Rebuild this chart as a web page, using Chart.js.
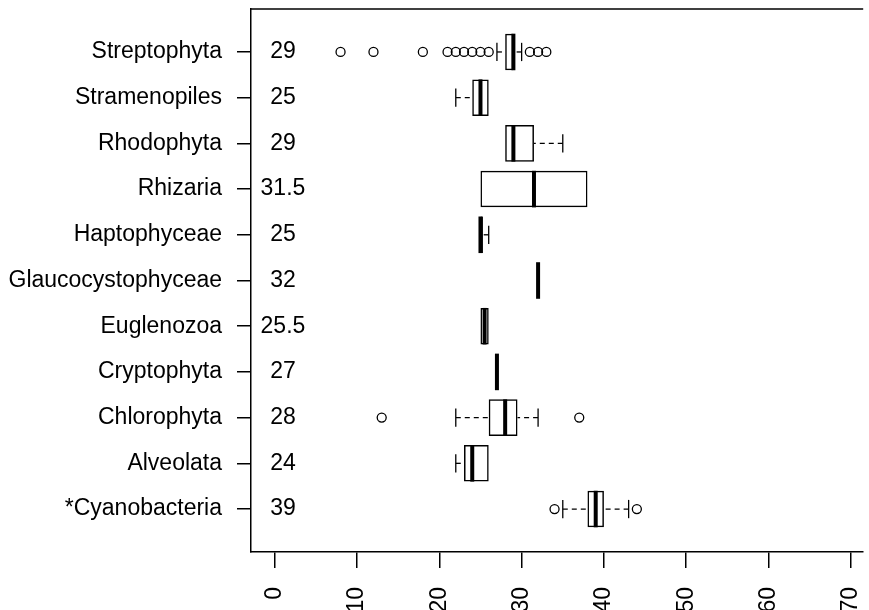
<!DOCTYPE html>
<html>
<head>
<meta charset="utf-8">
<script src="https://cdn.jsdelivr.net/npm/chart.js@4.4.0/dist/chart.umd.min.js"></script>
<style>
    body{margin:0;background:#fff;}
    canvas{display:block;}
</style>
</head>
<body>
<canvas id="chart" width="869" height="610"></canvas>
<script>
// groups from bottom (1) to top (11)
const categories = ['*Cyanobacteria','Alveolata','Chlorophyta','Cryptophyta','Euglenozoa','Glaucocystophyceae','Haptophyceae','Rhizaria','Rhodophyta','Stramenopiles','Streptophyta'];
const medians = [39, 24, 28, 27, 25.5, 32, 25, 31.5, 29, 25, 29];
const lowerQuartile = [38, 23, 26, 27, 25, 32, 25, 25, 28, 24, 28];
const upperQuartile = [40, 26, 29.5, 27, 26, 32, 25.3, 38, 31.5, 26, 29];
const lowerWhisker = [35, 22, 22, 27, 25, 32, 25, 25, 28, 22, 27];
const upperWhisker = [43, 26, 32, 27, 26, 32, 26, 38, 35, 26, 30];
const outliers = [[34, 44], [], [13, 37], [], [], [], [], [], [], [], [8, 12, 18, 21, 22, 23, 24, 25, 26, 31, 32, 33]];
const xTicks = [0, 10, 20, 30, 40, 50, 60, 70];

const FONT = "'Liberation Sans', Arial, sans-serif";

class BoxChart{
    constructor(where){
        this.where = where;

        Chart.defaults.font.family = FONT;
        Chart.defaults.font.size = 23;
        Chart.defaults.color = '#000';

        this.chart = new Chart(this.where,{
            type:'bar',
            data: this.boxData(),
            options: this.boxOptions(),
            plugins: [this.boxPlugin()]
        });
    }

    boxData(){
        let boxes = categories.map((c,i)=>({x:[lowerQuartile[i], upperQuartile[i]], y:i+1}));
        let points = [];
        outliers.forEach((list,i)=>list.forEach(v=>points.push({x:v, y:i+1})));

        return {
            datasets:[
                {
                    type:'bar',
                    indexAxis:'y',
                    data: boxes,
                    backgroundColor:'rgba(0,0,0,0)',
                    borderColor:'#000',
                    borderWidth:1.5,
                    borderSkipped:false,
                    categoryPercentage:1,
                    barPercentage:0.8
                },
                {
                    type:'scatter',
                    data: points,
                    showLine:false,
                    pointStyle:'circle',
                    pointRadius:4.5,
                    backgroundColor:'rgba(0,0,0,0)',
                    borderColor:'#000',
                    borderWidth:1.3
                }
            ]
        };
    }

    boxOptions(){
        return {
            responsive:false,
            animation:false,
            layout:{padding:{top:9, right:0, bottom:0, left:0}},
            plugins:{
                legend:{display:false},
                tooltip:{enabled:false}
            },
            scales:{
                x:{
                    type:'linear',
                    position:'bottom',
                    offset:false,
                    min:-2.88,
                    max:71.5,
                    afterBuildTicks:(scale)=>{ scale.ticks = xTicks.map(v=>({value:v})); },
                    afterFit:(scale)=>{
                        scale.height = 58;
                        scale.paddingLeft = 0;
                        scale.paddingRight = 0;
                    },
                    ticks:{
                        minRotation:90,
                        maxRotation:90,
                        padding:19,
                        autoSkip:false
                    },
                    grid:{
                        offset:false,
                        drawOnChartArea:false,
                        tickLength:16,
                        tickColor:'#000',
                        lineWidth:1.5
                    },
                    border:{display:true, color:'#000', width:1.5}
                },
                y:{
                    type:'linear',
                    position:'left',
                    offset:false,
                    min:0.06,
                    max:11.94,
                    afterBuildTicks:(scale)=>{ scale.ticks = categories.map((c,i)=>({value:i+1})); },
                    afterFit:(scale)=>{
                        scale.width = 251;
                        scale.paddingTop = 0;
                        scale.paddingBottom = 0;
                    },
                    ticks:{
                        padding:15,
                        autoSkip:false,
                        callback:(v)=>categories[v-1]
                    },
                    grid:{
                        offset:false,
                        drawOnChartArea:false,
                        tickLength:14,
                        tickColor:'#000',
                        lineWidth:1.5
                    },
                    border:{display:true, color:'#000', width:1.5}
                }
            }
        };
    }

    boxPlugin(){
        return {
            id:'boxParts',
            afterDatasetsDraw(chart){
                const ctx = chart.ctx;
                const xs = chart.scales.x;
                const ys = chart.scales.y;
                const area = chart.chartArea;
                const halfBox = Math.abs(ys.getPixelForValue(0.4) - ys.getPixelForValue(0));
                const halfCap = halfBox / 2;

                ctx.save();
                ctx.strokeStyle = '#000';
                ctx.fillStyle = '#000';

                // frame line along the top
                ctx.lineWidth = 1.5;
                ctx.beginPath();
                ctx.moveTo(area.left, area.top);
                ctx.lineTo(area.right, area.top);
                ctx.stroke();

                categories.forEach((c,i)=>{
                    const yc = ys.getPixelForValue(i+1);
                    const ends = [[lowerWhisker[i], lowerQuartile[i]], [upperWhisker[i], upperQuartile[i]]];

                    ends.forEach(([w,q])=>{
                        if(w === q) return;
                        const xw = xs.getPixelForValue(w);
                        const xq = xs.getPixelForValue(q);
                        ctx.lineWidth = 1.3;
                        ctx.setLineDash([5,4]);
                        ctx.beginPath();
                        ctx.moveTo(xw, yc);
                        ctx.lineTo(xq, yc);
                        ctx.stroke();
                        ctx.setLineDash([]);
                        ctx.beginPath();
                        ctx.moveTo(xw, yc - halfCap);
                        ctx.lineTo(xw, yc + halfCap);
                        ctx.stroke();
                    });

                    const xm = xs.getPixelForValue(medians[i]);
                    ctx.lineWidth = 4;
                    ctx.beginPath();
                    ctx.moveTo(xm, yc - halfBox);
                    ctx.lineTo(xm, yc + halfBox);
                    ctx.stroke();

                    ctx.font = '23px ' + FONT;
                    ctx.textAlign = 'center';
                    ctx.textBaseline = 'middle';
                    ctx.fillText(String(medians[i]), xs.getPixelForValue(1), yc);
                });
                ctx.restore();
            }
        };
    }
}

new BoxChart(document.getElementById('chart'));
</script>
</body>
</html>
